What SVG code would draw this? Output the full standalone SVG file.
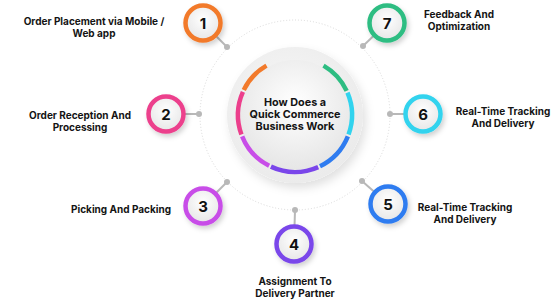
<svg xmlns="http://www.w3.org/2000/svg" width="556" height="300" viewBox="0 0 556 300">
<defs>
<radialGradient id="disk" cx="50%" cy="40%" r="60%">
<stop offset="0" stop-color="#ffffff"/>
<stop offset="1" stop-color="#e6e6e6"/>
</radialGradient>
<radialGradient id="big" cx="45%" cy="40%" r="60%">
<stop offset="0" stop-color="#f7f7f7"/>
<stop offset="1" stop-color="#ebebeb"/>
</radialGradient>
<filter id="sh" x="-50%" y="-50%" width="200%" height="200%">
<feDropShadow dx="2" dy="3" stdDeviation="2.5" flood-color="#000" flood-opacity="0.18"/>
</filter>
<filter id="sh2" x="-30%" y="-30%" width="160%" height="160%">
<feDropShadow dx="3" dy="5" stdDeviation="5" flood-color="#000" flood-opacity="0.12"/>
</filter>
</defs>
<style>
.lbl{font-family:Inter,"Liberation Sans",sans-serif;font-weight:700;font-size:10px;fill:#141414;text-anchor:middle}
.num{font-family:Inter,"Liberation Sans",sans-serif;font-weight:700;font-size:15px;fill:#111;text-anchor:middle}
.ctr{font-family:Inter,"Liberation Sans",sans-serif;font-weight:700;font-size:10.8px;fill:#141414;text-anchor:middle}
.ring{fill:none;stroke-width:4.5}
.nring{fill:url(#disk);stroke-width:4.5;filter:url(#sh)}
.con{stroke:#b8b8b8;stroke-width:2;fill:none}
.dot{fill:#b8b8b8}
</style>
<rect width="556" height="300" fill="#ffffff"/>
<circle cx="295" cy="115" r="95" fill="none" stroke="#cfcfcf" stroke-width="0.8" stroke-dasharray="1 2"/>
<g id="connectors">
<line class="con" x1="203" y1="23" x2="227" y2="47"/>
<line class="con" x1="166" y1="114" x2="199" y2="114"/>
<line class="con" x1="203" y1="206" x2="227" y2="182"/>
<line class="con" x1="294" y1="244" x2="295" y2="210"/>
<line class="con" x1="388" y1="204" x2="362" y2="181"/>
<line class="con" x1="423" y1="114" x2="390" y2="114"/>
<line class="con" x1="387" y1="23" x2="363" y2="46"/>
<circle class="dot" cx="227" cy="47" r="3"/>
<circle class="dot" cx="199" cy="114" r="3"/>
<circle class="dot" cx="227" cy="182" r="3"/>
<circle class="dot" cx="295" cy="210" r="3"/>
<circle class="dot" cx="362" cy="181" r="3"/>
<circle class="dot" cx="390" cy="114" r="3"/>
<circle class="dot" cx="363" cy="46" r="3"/>
</g>
<g id="center">
<circle cx="295" cy="115" r="68" fill="url(#big)" filter="url(#sh2)"/>
<circle cx="295" cy="115" r="55" fill="url(#disk)"/>
<path class="ring" stroke="#f27a2b" d="M243.77,90.01 A57,57 0 0 1 266.5,65.64"/>
<path class="ring" stroke="#ec3f8c" d="M241.44,134.49 A57,57 0 0 1 242.93,91.82"/>
<path class="ring" stroke="#c84ee8" d="M269.12,165.79 A57,57 0 0 1 242.15,136.35"/>
<path class="ring" stroke="#7a46ea" d="M318.18,167.07 A57,57 0 0 1 270.91,166.66"/>
<path class="ring" stroke="#2f7cf0" d="M347.85,136.35 A57,57 0 0 1 319.99,166.23"/>
<path class="ring" stroke="#31d3ee" d="M347.47,92.73 A57,57 0 0 1 348.56,134.49"/>
<path class="ring" stroke="#2dbd82" d="M323.5,65.64 A57,57 0 0 1 346.66,90.91"/>
<text class="ctr" x="295" y="105.5">How Does a</text>
<text class="ctr" x="295" y="117.5">Quick Commerce</text>
<text class="ctr" x="295" y="129.5">Business Work</text>
</g>
<g id="node1">
<circle class="nring" cx="203" cy="23" r="17.5" stroke="#f27a2b"/>
<text class="num" x="203" y="28.5">1</text>
<text class="lbl" x="94" y="24.5">Order Placement via Mobile /</text>
<text class="lbl" x="94" y="36.5">Web app</text>
</g>
<g id="node2">
<circle class="nring" cx="166" cy="114" r="17.5" stroke="#ec3f8c"/>
<text class="num" x="166" y="119.5">2</text>
<text class="lbl" x="80" y="119">Order Reception And</text>
<text class="lbl" x="80" y="131">Processing</text>
</g>
<g id="node3">
<circle class="nring" cx="203" cy="206" r="17.5" stroke="#c84ee8"/>
<text class="num" x="203" y="211.5">3</text>
<text class="lbl" x="121" y="212.5">Picking And Packing</text>
</g>
<g id="node4">
<circle class="nring" cx="294" cy="244" r="17.5" stroke="#7a46ea"/>
<text class="num" x="294" y="249.5">4</text>
<text class="lbl" x="295" y="285">Assignment To</text>
<text class="lbl" x="295" y="297">Delivery Partner</text>
</g>
<g id="node5">
<circle class="nring" cx="388" cy="204" r="17.5" stroke="#2f7cf0"/>
<text class="num" x="388" y="209.5">5</text>
<text class="lbl" x="465" y="211">Real-Time Tracking</text>
<text class="lbl" x="465" y="223">And Delivery</text>
</g>
<g id="node6">
<circle class="nring" cx="423" cy="114" r="17.5" stroke="#31d3ee"/>
<text class="num" x="423" y="119.5">6</text>
<text class="lbl" x="503" y="115">Real-Time Tracking</text>
<text class="lbl" x="503" y="127">And Delivery</text>
</g>
<g id="node7">
<circle class="nring" cx="387" cy="23" r="17.5" stroke="#2dbd82"/>
<text class="num" x="387" y="28.5">7</text>
<text class="lbl" x="459" y="18">Feedback And</text>
<text class="lbl" x="459" y="30">Optimization</text>
</g>
</svg>
